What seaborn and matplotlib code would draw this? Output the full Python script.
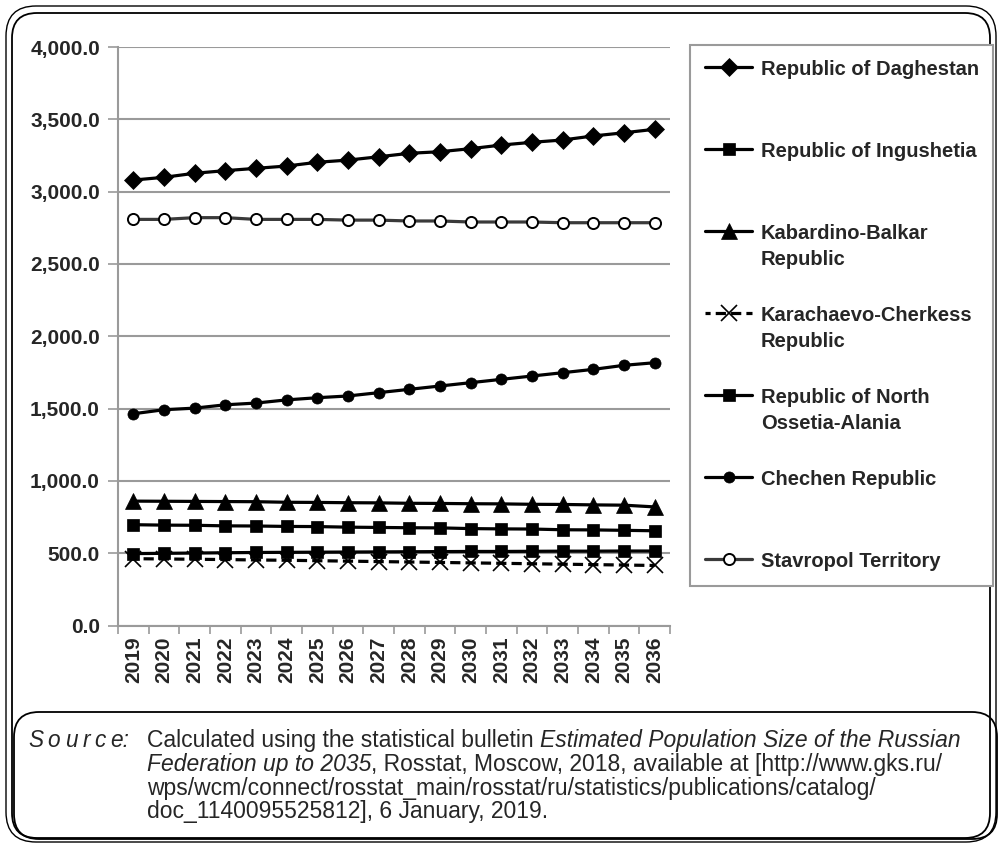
import numpy as np
import pandas as pd
import matplotlib
matplotlib.use("Agg")
import matplotlib.pyplot as plt
import seaborn as sns
from matplotlib.patches import FancyBboxPatch
from matplotlib.transforms import IdentityTransform
from matplotlib.ticker import FixedLocator, FuncFormatter, NullFormatter
from matplotlib.legend_handler import HandlerLine2D

years = [str(y) for y in range(2019, 2037)]
daghestan = [3080, 3099, 3127, 3145, 3161, 3177, 3203, 3218, 3241, 3265, 3276, 3297, 3322, 3341, 3357, 3385, 3407, 3431]
ingushetia = [497, 499, 501, 503, 505, 506, 507, 508, 509, 510, 511, 512, 512, 513, 514, 514, 515, 515]
kabardino = [860, 859, 858, 857, 856, 852, 851, 849, 848, 845, 844, 842, 841, 838, 837, 834, 832, 820]
karachaevo = [462, 460, 458, 456, 453, 451, 448, 445, 442, 439, 436, 433, 430, 427, 424, 421, 418, 415]
n_ossetia = [697, 694, 693, 689, 688, 685, 684, 680, 678, 676, 675, 670, 668, 667, 662, 661, 658, 655]
chechen = [1464, 1492, 1503, 1526, 1538, 1560, 1575, 1587, 1610, 1633, 1656, 1679, 1702, 1725, 1748, 1771, 1799, 1817]
stavropol = [2808, 2808, 2820, 2820, 2808, 2808, 2808, 2803, 2803, 2797, 2797, 2790, 2790, 2790, 2785, 2785, 2785, 2785]

labels = ["Republic of Daghestan", "Republic of Ingushetia", "Kabardino-Balkar\nRepublic",
          "Karachaevo-Cherkess\nRepublic", "Republic of North\nOssetia-Alania", "Chechen Republic",
          "Stavropol Territory"]
y_ticks = [0, 500, 1000, 1500, 2000, 2500, 3000, 3500, 4000]

source_label = "Source:"
source_lines = [
    [("Calculated using the statistical bulletin ", "normal"), ("Estimated Population Size of the Russian", "italic")],
    [("Federation up to 2035", "italic"), (", Rosstat, Moscow, 2018, available at [http://www.gks.ru/", "normal")],
    [("wps/wcm/connect/rosstat_main/rosstat/ru/statistics/publications/catalog/", "normal")],
    [("doc_1140095525812], 6 January, 2019.", "normal")],
]

sns.set_theme(style="white")
plt.rcParams['font.family'] = ['Liberation Sans', 'DejaVu Sans']

W, H = 999, 844
fig = plt.figure(figsize=(W / 100, H / 100), dpi=100)
ax = fig.add_axes([118 / W, 1 - 625.5 / H, (670 - 118) / W, (625.5 - 47) / H])

x = np.arange(len(years))
styles = [
    dict(color="black", marker="D", markersize=9.5, markerfacecolor="black", markeredgecolor="black", markeredgewidth=0.5, linestyle="-"),
    dict(color="black", marker="s", markersize=8.5, markerfacecolor="black", markeredgecolor="black", markeredgewidth=0.5, linestyle="-"),
    dict(color="black", marker="^", markersize=11, markerfacecolor="black", markeredgecolor="black", markeredgewidth=0.5, linestyle="-"),
    dict(color="black", marker="x", markersize=11.5, markerfacecolor="black", markeredgecolor="black", markeredgewidth=1.2, linestyle=(1.6, (3.2, 1.6))),
    dict(color="black", marker="s", markersize=8.5, markerfacecolor="black", markeredgecolor="black", markeredgewidth=0.5, linestyle="-"),
    dict(color="black", marker="o", markersize=8, markerfacecolor="black", markeredgecolor="black", markeredgewidth=0.5, linestyle="-"),
    dict(color="#3a3a3a", marker="o", markersize=8, markerfacecolor="white", markeredgecolor="black", markeredgewidth=1.4, linestyle="-"),
]
series = [daghestan, ingushetia, kabardino, karachaevo, n_ossetia, chechen, stavropol]
order = [6, 5, 2, 4, 1, 3, 0]
handles = [None] * len(series)
for i in order:
    sns.lineplot(x=x, y=series[i], ax=ax, linewidth=2.3, label=labels[i], legend=False, **styles[i])
    handles[i] = ax.lines[-1]

ax.set_xlim(-0.5, len(years) - 0.5)
ax.set_ylim(0, 4000)
ax.yaxis.set_major_locator(FixedLocator(y_ticks))
ax.yaxis.set_major_formatter(FuncFormatter(lambda v, p: f"{v:,.1f}"))
ax.xaxis.set_major_locator(FixedLocator(np.arange(-0.5, len(years), 1.0)))
ax.xaxis.set_major_formatter(NullFormatter())
ax.set_xticks(x, minor=True)
ax.set_xticklabels(years, minor=True, rotation=90, fontsize=15, fontweight="bold")
ax.tick_params(axis="x", which="major", length=6, width=1.2, color="#9a9a9a", direction="out", bottom=True)
ax.tick_params(axis="x", which="minor", length=0, pad=8, bottom=True)
ax.tick_params(axis="y", which="major", length=7, width=1.2, color="#9a9a9a", direction="out", left=True, pad=6)
for lab in ax.get_yticklabels():
    lab.set_fontsize(15)
    lab.set_fontweight("bold")
ax.set_xlabel("")
ax.set_ylabel("")
ax.grid(False)
ax.yaxis.grid(True, color="#9a9a9a", linewidth=1.5)
ax.set_axisbelow(True)
for s in ["top", "right"]:
    ax.spines[s].set_visible(False)
for s in ["left", "bottom"]:
    ax.spines[s].set_color("#9a9a9a")
    ax.spines[s].set_linewidth(1.5)


class ShiftedHandler(HandlerLine2D):
    def __init__(self, dy=0.0, **kw):
        super().__init__(**kw)
        self.dy = dy

    def create_artists(self, legend, orig_handle, xdescent, ydescent, width, height, fontsize, trans):
        return super().create_artists(legend, orig_handle, xdescent, ydescent - 2 * self.dy,
                                      width, height, fontsize, trans)


# every entry except the last occupies a two-line slot, as in the reference
leg_labels = []
for i, lab in enumerate(labels):
    if "\n" not in lab and i < len(labels) - 1:
        lab = lab + "\n "
    leg_labels.append(lab)

hmap = {}
for i, h in enumerate(handles):
    hmap[h] = ShiftedHandler(dy=11.5 if "\n" in leg_labels[i] else 0.0)

leg = fig.legend(handles, leg_labels, loc="upper left",
                 bbox_to_anchor=(690 / W, 1 - 585 / H, 303 / W, 540 / H), mode="expand",
                 borderaxespad=0, frameon=True, fancybox=False, handlelength=2.35,
                 handletextpad=0.42, labelspacing=1.83, borderpad=0.75,
                 prop={"weight": "bold", "size": 14.5}, handler_map=hmap)
for t in leg.get_texts():
    t.set_linespacing(1.47)
leg.get_frame().set_edgecolor("#9a9a9a")
leg.get_frame().set_linewidth(1.5)
leg.get_frame().set_facecolor("white")
leg.get_frame().set_alpha(1)


def rbox(x0, y0, x1, y1, r, lw):
    p = FancyBboxPatch((x0, H - y1), x1 - x0, y1 - y0,
                       boxstyle=f"round,pad=0,rounding_size={r}",
                       transform=IdentityTransform(), fill=False,
                       edgecolor="black", linewidth=lw)
    fig.add_artist(p)


rbox(6, 6, 996, 842, 30, 1.0)
rbox(12, 13, 990, 838, 25, 1.3)
rbox(14, 712, 997, 839, 25, 1.3)

fig.canvas.draw()
renderer = fig.canvas.get_renderer()

# letter-spaced italic "Source:"
xpos = 28
for ch in ["S", "o", "u", "r", "c", "e:"]:
    t = fig.text(xpos / W, 1 - 747 / H, ch, fontsize=16.3, style="italic", va="baseline", ha="left")
    xpos += t.get_window_extent(renderer=renderer).width + 4.6

baselines = [747, 771, 795, 818]
for line, yb in zip(source_lines, baselines):
    xpos = 147
    for txt, st in line:
        t = fig.text(xpos / W, 1 - yb / H, txt, fontsize=16.5, style=st, va="baseline", ha="left")
        xpos += t.get_window_extent(renderer=renderer).width

fig.savefig("out.png", dpi=100)
